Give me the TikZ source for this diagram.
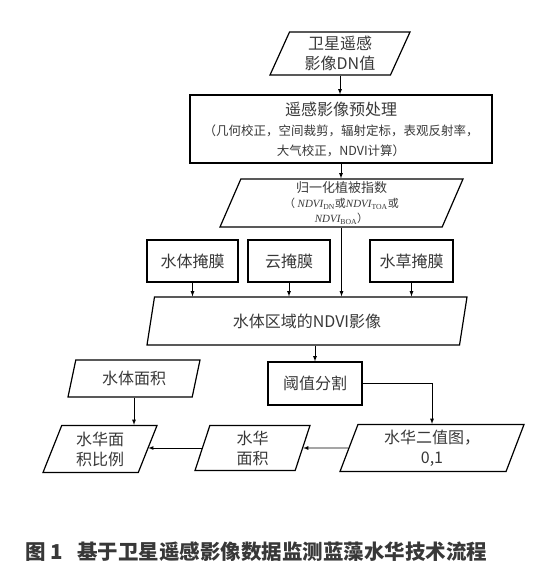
\documentclass[tikz,border=0pt]{standalone}
\usepackage{fontspec}
\setmainfont{Noto Sans CJK SC}
\newfontfamily\romanfont{Liberation Serif}
\usepackage{tikz}
\usetikzlibrary{arrows}
\usetikzlibrary{shapes}
\usetikzlibrary{calc}
\definecolor{txtgray}{rgb}{0.22,0.22,0.22}
\newcommand{\boxfont}{\fontsize{16}{20}\selectfont}
\newcommand{\smallboxfont}{\fontsize{12.5}{16}\selectfont}
\newcommand{\ndvi}[1]{{\romanfont\itshape NDVI}\textsubscript{\romanfont #1}}
\tikzset{
  procbox/.style={draw, line width=1.2pt, text=txtgray, align=center, inner sep=1pt, font=\boxfont},
  databox/.style 2 args={draw, line width=1.2pt, text=txtgray, align=center, inner sep=1pt, font=\boxfont,
    trapezium, trapezium stretches body, trapezium left angle=#1, trapezium right angle=#2},
  flow/.style={line width=0.8pt, -latex}
}
\begin{document}
\begin{tikzpicture}[x=1pt, y=-1pt]
      \useasboundingbox (0,0) rectangle (552,578);
      % top of the chain
      \node[databox={62}{118}, minimum width=140pt, minimum height=43pt] (src) at (340,53.5) {卫星遥感\\影像DN值};
      \node[procbox, minimum width=302pt, minimum height=68pt] (pre) at (341,129)
        {遥感影像预处理\\{\smallboxfont （几何校正，空间裁剪，辐射定标，表观反射率，}\\{\smallboxfont 大气校正，NDVI计算）}};
      \node[databox={65}{115}, minimum width=243pt, minimum height=48pt, font=\fontsize{13}{15}\selectfont] (ndvi) at (341.5,203)
        {归一化植被指数\\{\fontsize{11}{15}\selectfont （ \ndvi{DN}或\ndvi{TOA}或}\\{\fontsize{11}{14}\selectfont \ndvi{BOA}）}};
      % masks
      \node[procbox, minimum width=91pt, minimum height=42pt] (wmask) at (192.5,261) {水体掩膜};
      \node[procbox, minimum width=82pt, minimum height=42pt] (cmask) at (289,261) {云掩膜};
      \node[procbox, minimum width=83pt, minimum height=42pt] (gmask) at (411.5,261) {水草掩膜};
      \node[databox={66}{114}, minimum width=320pt, minimum height=48pt] (water) at (307,321) {水体区域的NDVI影像};
      % results
      \node[procbox, minimum width=94pt, minimum height=43pt] (thr) at (315,383.5) {阈值分割};
      \node[databox={65}{115}, minimum width=132pt, minimum height=37pt] (warea) at (134,378.5) {水体面积};
      \node[databox={63}{117}, minimum width=114pt, minimum height=47pt] (ratio) at (100,449) {水华面\\积比例};
      \node[databox={68}{112}, minimum width=115pt, minimum height=45pt] (barea) at (252.5,448) {水华\\面积};
      \node[databox={65}{115}, minimum width=184pt, minimum height=47pt] (binary) at (432,448) {水华二值图，\\0,1};

      \draw[flow] (src.south) -- (src.south |- pre.north);
      \draw[flow] (pre.south) -- (pre.south |- ndvi.north);
      \draw[flow] (ndvi.south) -- (ndvi.south |- water.north);
      \draw[flow] (wmask.south) -- (wmask.south |- water.north);
      \draw[flow] (cmask.south) -- (cmask.south |- water.north);
      \draw[flow] (gmask.south) -- (gmask.south |- water.north);
      \draw[flow] (thr.north |- water.south) -- (thr.north);
      \draw[flow] (thr.east) -| (binary.north);
      \draw[flow] (warea.south) -- (warea.south |- ratio.north);
      \draw[flow] (binary.west) -- (barea.east);
      \draw[flow] (barea.west) -- (barea.west -| ratio.east);

      \node[anchor=west, text=txtgray, font=\bfseries\fontsize{20.5}{20.5}\selectfont] (cap) at (22,552)
        {图 1\hspace{14pt}基于卫星遥感影像数据监测蓝藻水华技术流程};
    \end{tikzpicture}
\end{document}
